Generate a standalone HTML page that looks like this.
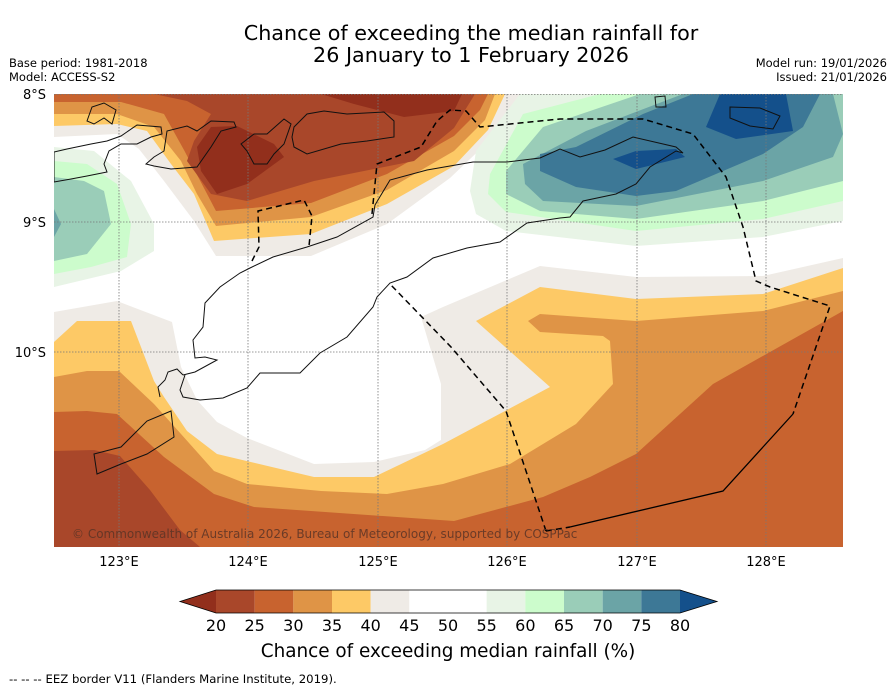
<!DOCTYPE html>
<html><head><meta charset="utf-8"><style>
html,body{margin:0;padding:0;background:#fff;}
svg{display:block;font-family:"DejaVu Sans","Liberation Sans",sans-serif;}
</style></head><body>
<svg id="chart" width="896" height="690" viewBox="0 0 896 690">
<defs><clipPath id="mapclip"><rect x="54" y="94" width="789" height="453"/></clipPath></defs>
<text x="471" y="40" text-anchor="middle" font-size="20.7">Chance of exceeding the median rainfall for</text>
<text x="471" y="62" text-anchor="middle" font-size="20.7">26 January to 1 February 2026</text>
<text x="9" y="67" font-size="11.5">Base period: 1981-2018</text>
<text x="9" y="81" font-size="11.5">Model: ACCESS-S2</text>
<text x="887" y="67" font-size="11.5" text-anchor="end">Model run: 19/01/2026</text>
<text x="887" y="81" font-size="11.5" text-anchor="end">Issued: 21/01/2026</text>

<g clip-path="url(#mapclip)">
<rect x="54" y="94" width="789" height="453" fill="#ffffff"/>
<polygon fill="#EFEBE6" points="54,312 117,301 172,322 181,367 197,400 217,422 247,438 314,464 374,462 425,450 441,440 441,384 421,317 443,307 540,266 636,277 763,276 843,258 843,547 54,547"/>
<polygon fill="#FDC966" points="54,342 77,321 131,321 154,381 164,397 187,431 217,454 314,477 374,477 443,444 550,387 476,321 540,287 636,299 763,294 843,268 843,547 54,547"/>
<polygon fill="#DF9446" points="54,377 87,371 119,371 154,404 181,434 214,471 247,484 321,491 387,494 443,484 510,464 576,424 613,384 610,341 603,336 540,332 528,321 540,314 636,321 763,311 843,291 843,547 54,547"/>
<polygon fill="#C8632F" points="54,412 87,411 117,414 164,457 214,494 254,507 454,521 543,497 590,477 636,454 713,384 843,311 843,547 54,547"/>
<polygon fill="#A9472A" points="54,451 94,450 120,456 150,490 180,530 200,547 54,547"/>
<polygon fill="#EFEBE6" points="54,94 54,137 117,134 139,149 164,181 194,221 216,256 311,256 387,224 450,178 490,140 520,94"/>
<polygon fill="#FDC966" points="54,94 54,126 117,124 147,131 171,164 194,194 214,241 311,234 387,204 454,166 488,130 505,94"/>
<polygon fill="#DF9446" points="54,94 54,114 117,114 154,127 181,161 197,194 216,226 311,217 387,190 454,151 485,120 495,94"/>
<polygon fill="#C8632F" points="54,94 54,102 121,102 164,114 184,150 205,190 216,211 311,203 387,174 454,136 480,110 488,94"/>
<polygon fill="#A9472A" points="154,94 187,101 211,114 194,141 187,161 211,194 247,201 314,181 414,161 454,128 475,94"/>
<polygon fill="#922F1C" points="197,147 211,127 237,126 274,144 284,157 247,184 217,194 201,171"/>
<polygon fill="#922F1C" points="321,94 462,94 454,111 404,117 354,104"/>
<polygon fill="#E8F4E6" points="520,94 510,107 476,151 470,191 476,214 506,231 636,246 763,237 843,221 843,94"/>
<polygon fill="#CCFCCC" points="600,94 523,114 490,174 488,194 506,212 636,231 763,219 843,201 843,94"/>
<polygon fill="#9ACDB8" points="640,94 543,127 506,171 506,194 540,211 636,219 763,201 843,181 843,94"/>
<polygon fill="#6BA4A6" points="683,94 586,131 523,164 525,184 543,201 636,206 763,181 833,157 843,134 833,94"/>
<polygon fill="#3D7896" points="693,94 820,94 803,127 763,154 676,191 636,196 576,187 540,171 540,154 576,147 643,114"/>
<polygon fill="#14508B" points="706,127 720,94 786,94 793,131 736,139"/>
<polygon fill="#14508B" points="613,159 636,151 676,149 685,157 636,169"/>
<polygon fill="#E8F4E6" points="54,147 94,151 131,181 154,224 154,251 121,271 54,287"/>
<polygon fill="#CCFCCC" points="54,161 87,164 117,184 131,224 127,257 91,267 54,274"/>
<polygon fill="#9ACDB8" points="54,177 84,181 104,191 111,224 87,254 54,261"/>
<polygon fill="#6BA4A6" points="54,209 61,224 54,237"/>
<g stroke="#777" stroke-width="0.8" stroke-dasharray="1.5,1.5">
<line x1="119" y1="94" x2="119" y2="547"/><line x1="248" y1="94" x2="248" y2="547"/><line x1="378" y1="94" x2="378" y2="547"/><line x1="507" y1="94" x2="507" y2="547"/><line x1="637" y1="94" x2="637" y2="547"/><line x1="766" y1="94" x2="766" y2="547"/>
<line x1="54" y1="94.5" x2="843" y2="94.5"/><line x1="54" y1="222" x2="843" y2="222"/><line x1="54" y1="352" x2="843" y2="352"/>
</g>
<g fill="none" stroke="#111" stroke-width="1">
<polyline points="183,375 195,372 217,360 205,357 195,358 193,340 203,327 205,303 220,287 240,273 250,268 273,257 307,247 337,237 373,217 375,205 390,180 427,170 473,162 507,162 540,158 560,149 580,157 605,150 633,137 676,147 683,153 676,151 650,167 636,184 616,194 583,201 570,217 560,218 527,223 500,242 467,248 433,258 407,277 390,283 377,297 373,307 347,337 320,353 300,373 273,373 260,373 247,388 223,398 200,400 183,397 180,390 185,375"/>
<polyline points="160,397 158,387 165,380 168,372 177,369 183,375"/>
<polygon points="94,454 121,447 147,421 171,411 174,437 147,454 121,464 97,474"/>
<polygon points="54,152 67,149 91,144 107,141 121,136 137,125 161,127 162,134 151,137 137,144 121,144 109,151 104,164 107,172 97,174 87,176 71,179 54,182"/>
<polygon points="87,121 92,107 104,103 116,110 112,124 104,118 94,124"/>
<polygon points="146,164 154,157 164,151 167,131 187,126 197,131 211,121 234,122 236,127 221,131 211,147 197,167 171,169 154,166"/>
<polygon points="241,144 254,134 267,134 284,119 291,124 284,144 274,154 267,164 254,164 247,151"/>
<polygon points="294,127 307,114 324,111 347,114 384,112 394,121 394,137 367,141 341,144 307,154 294,147 292,137"/>
<polygon points="730,107 760,108 780,116 773,129 750,126 730,118"/>
<polygon points="655,97 665,96 666,107 656,107"/>
</g>
<g fill="none" stroke="#000" stroke-width="1.5" stroke-dasharray="6,4">
<polyline points="252,261 259,247 258,211 304,200 312,216 309,246"/>
<polyline points="372,214 377,164 421,147 437,121 450,110 466,111 480,127 560,119 643,119 693,134 726,177 743,227 756,281 770,287 830,306 793,414"/>
<polyline points="546,531 506,411 451,347 390,284"/>
<polyline points="546,531 570,527"/>
</g>
<polyline fill="none" stroke="#000" stroke-width="1.3" points="570,527 723,491 763,447 793,414"/>
<text x="72" y="538" font-size="12" fill="#5a3426" fill-opacity="0.85">© Commonwealth of Australia 2026, Bureau of Meteorology, supported by COSPPac</text>
</g>
<g font-size="13">
<text x="46" y="99" text-anchor="end">8°S</text><text x="46" y="227" text-anchor="end">9°S</text><text x="46" y="357" text-anchor="end">10°S</text>
<text x="119" y="566" text-anchor="middle">123°E</text><text x="248" y="566" text-anchor="middle">124°E</text><text x="378" y="566" text-anchor="middle">125°E</text><text x="507" y="566" text-anchor="middle">126°E</text><text x="637" y="566" text-anchor="middle">127°E</text><text x="766" y="566" text-anchor="middle">128°E</text>
</g>
<g id="colorbar"></g>
<text x="448" y="657" text-anchor="middle" font-size="18.4">Chance of exceeding median rainfall (%)</text>
<text x="9" y="683" font-size="11.7">--  --  -- EEZ border V11 (Flanders Marine Institute, 2019).</text>
</svg>
<script>
const levels = [20,25,30,35,40,45,50,55,60,65,70,75,80];
const bandColors = ["#A9472A","#C8632F","#DF9446","#FDC966","#EFEBE6","#FFFFFF","#FFFFFF","#E8F4E6","#CCFCCC","#9ACDB8","#6BA4A6","#3D7896"];
const underColor = "#922F1C";
const overColor = "#14508B";
(function(){
  const ns="http://www.w3.org/2000/svg";
  const g=document.getElementById('colorbar');
  const x0=216,x1=680,y0=590,y1=613;
  const sx=v=>x0+(v-levels[0])/(levels[levels.length-1]-levels[0])*(x1-x0);
  for(let i=0;i<bandColors.length;i++){
    const r=document.createElementNS(ns,'rect');
    r.setAttribute('x',sx(levels[i]));r.setAttribute('y',y0);
    r.setAttribute('width',sx(levels[i+1])-sx(levels[i]));r.setAttribute('height',y1-y0);
    r.setAttribute('fill',bandColors[i]);
    
    
    g.appendChild(r);
  }
  const tl=document.createElementNS(ns,'polygon');
  tl.setAttribute('points',`${x0},${y0} 180,${(y0+y1)/2} ${x0},${y1}`);
  tl.setAttribute('fill',underColor);
  
  
  g.appendChild(tl);
  const tr=document.createElementNS(ns,'polygon');
  tr.setAttribute('points',`${x1},${y0} 717,${(y0+y1)/2} ${x1},${y1}`);
  tr.setAttribute('fill',overColor);
  
  
  g.appendChild(tr);
  const o=document.createElementNS(ns,'polygon');
  o.setAttribute('points',`180,${(y0+y1)/2} ${x0},${y0} ${x1},${y0} 717,${(y0+y1)/2} ${x1},${y1} ${x0},${y1}`);
  o.setAttribute('fill','none');o.setAttribute('stroke','#000');o.setAttribute('stroke-width','0.8');
  
  
  g.appendChild(o);
  levels.forEach(v=>{
    const t=document.createElementNS(ns,'text');
    t.setAttribute('x',sx(v));t.setAttribute('y',631);
    t.setAttribute('text-anchor','middle');t.setAttribute('font-size','16');
    t.textContent=v;
    
    
    g.appendChild(t);
  });
})();
</script>
</body></html>
